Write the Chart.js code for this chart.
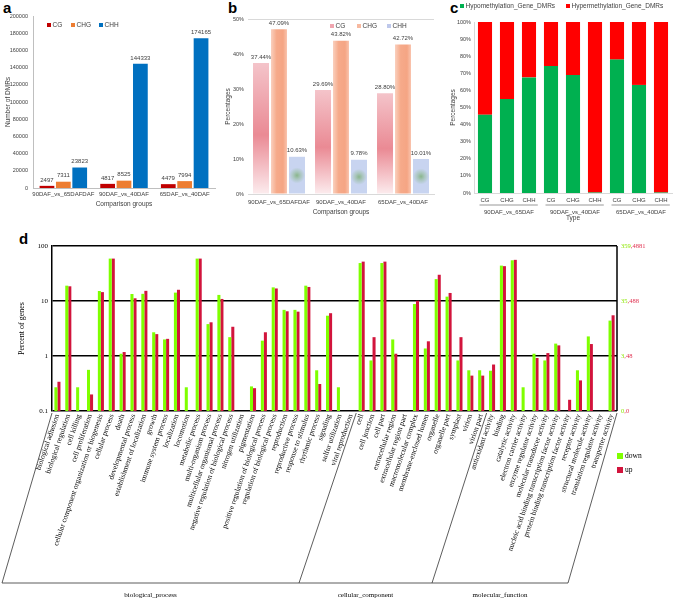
<!DOCTYPE html>
<html>
<head>
<meta charset="utf-8">
<script src="https://cdn.jsdelivr.net/npm/chart.js@4.4.0/dist/chart.umd.min.js"></script>
<style>
  html, body { margin: 0; padding: 0; background: #fff; }
  body { width: 678px; height: 601px; position: relative; overflow: hidden; }
  canvas { position: absolute; }
  .tag { position: absolute; font: bold 15px/15px "Liberation Sans", Arial, sans-serif; color: #000; }
</style>
</head>
<body>
<div class="tag" style="left:3px;top:0px">a</div>
<div class="tag" style="left:228px;top:0px">b</div>
<div class="tag" style="left:450px;top:0px">c</div>
<div class="tag" style="left:19px;top:231px">d</div>

<canvas id="chartA" width="225" height="212" style="left:0;top:0"></canvas>
<canvas id="chartB" width="225" height="218" style="left:225px;top:0"></canvas>
<canvas id="chartC" width="228" height="224" style="left:450px;top:0"></canvas>
<canvas id="chartD" width="678" height="376" style="left:0;top:225px"></canvas>

<script>
// ---- data ----
const groups = ['90DAF_vs_65DAFDAF', '90DAF_vs_40DAF', '65DAF_vs_40DAF'];
const dmrCG = [2497, 4817, 4479];
const dmrCHG = [7311, 8525, 7994];
const dmrCHH = [23823, 144333, 174165];

const pctCG = [37.44, 29.69, 28.80];
const pctCHG = [47.09, 43.82, 42.72];
const pctCHH = [10.63, 9.78, 10.01];

const contexts = ['CG', 'CHG', 'CHH', 'CG', 'CHG', 'CHH', 'CG', 'CHG', 'CHH'];
const contextGroups = ['90DAF_vs_65DAF', '90DAF_vs_40DAF', '65DAF_vs_40DAF'];
const hypoPct = [45.7, 55.0, 67.6, 74.2, 69.0, 0.3, 78.0, 63.2, 0.3];
const hyperPct = [54.3, 45.0, 32.4, 25.8, 31.0, 99.7, 22.0, 36.8, 99.7];

const goTerms = [
  'biological adhesion', 'biological regulation', 'cell killing', 'cell proliferation',
  'cellular component organization or biogenesis', 'cellular process', 'death',
  'developmental process', 'establishment of localization', 'growth', 'immune system process',
  'localization', 'locomotion', 'metabolic process', 'multi-organism process',
  'multicellular organismal process', 'negative regulation of biological process',
  'nitrogen utilization', 'pigmentation', 'positive regulation of biological process',
  'regulation of biological process', 'reproduction', 'reproductive process',
  'response to stimulus', 'rhythmic process', 'signaling', 'sulfur utilization',
  'viral reproduction',
  'cell', 'cell junction', 'cell part', 'extracellular region', 'extracellular region part',
  'macromolecular complex', 'membrane-enclosed lumen', 'organelle', 'organelle part',
  'symplast', 'virion', 'virion part',
  'antioxidant activity', 'binding', 'catalytic activity', 'electron carrier activity',
  'enzyme regulator activity', 'molecular transducer activity',
  'nucleic acid binding transcription factor activity',
  'protein binding transcription factor activity', 'receptor activity',
  'structural molecule activity', 'translation regulator activity', 'transporter activity'
];
const goDown = [
  0.27, 19, 0.27, 0.56, 15.2, 59, 1.1, 13.4, 13.5, 2.7, 2.0, 14.2, 0.27, 59, 3.8, 12.9, 2.2,
  null, 0.28, 1.9, 17.7, 6.9, 6.9, 19, 0.55, 5.4, 0.27, null,
  49, 0.83, 49, 2.0, null, 8.8, 1.37, 25, 12, 0.83, 0.55, 0.55,
  0.54, 44, 55, 0.27, 1.1, 0.83, 1.68, null, 0.55, 2.27, null, 4.4
];
const goUp = [
  0.34, 18.5, null, 0.2, 14.5, 59, 1.18, 11.2, 15.3, 2.5, 2.05, 16, null, 59, 4.1, 10.9, 3.4,
  null, 0.26, 2.7, 16.9, 6.5, 6.4, 18, 0.31, 6.0, null, null,
  52, 2.2, 52, 1.1, null, 10.1, 1.85, 30, 14, 2.2, 0.44, 0.44,
  0.7, 43, 56, null, 0.92, 1.13, 1.56, 0.16, 0.36, 1.65, null, 5.5
];
const goGroups = ['biological_process', 'cellular_component', 'molecular_function'];
const goGroupSizes = [28, 12, 12];
const goTicks = [0.1, 1, 10, 100];
const rightDown = ['0', '3', '35', '359'];
const rightUp = ['0', '48', '488', '4881'];

// ---- shared bits ----
const SANS = '"Liberation Sans", Arial, sans-serif';
const SERIF = '"Liberation Serif", "Times New Roman", serif';
const GREY = '#404040';

function keyPlugin(items) {
  return {
    id: 'key',
    afterDraw(chart) {
      const ctx = chart.ctx;
      ctx.save();
      ctx.font = '6.5px ' + SANS;
      ctx.textBaseline = 'middle';
      items.forEach((it, i) => {
        ctx.fillStyle = it.color;
        ctx.fillRect(it.x, it.y - 2, 4, 4);
        ctx.fillStyle = GREY;
        ctx.fillText(chart.data.datasets[i].label, it.x + 5.5, it.y);
      });
      ctx.restore();
    }
  };
}

function valueLabels(fmt) {
  return {
    id: 'valueLabels',
    afterDatasetsDraw(chart) {
      const ctx = chart.ctx;
      ctx.save();
      ctx.font = '6px ' + SANS;
      ctx.fillStyle = GREY;
      ctx.textAlign = 'center';
      ctx.textBaseline = 'bottom';
      chart.data.datasets.forEach((ds, di) => {
        chart.getDatasetMeta(di).data.forEach((el, i) => {
          ctx.fillText(fmt(ds.data[i]), el.x, el.y - 3);
        });
      });
      ctx.restore();
    }
  };
}

// ---- a ----
new Chart(document.getElementById('chartA'), {
  type: 'bar',
  data: {
    labels: groups,
    datasets: [
      { label: 'CG', data: dmrCG, backgroundColor: '#C00000' },
      { label: 'CHG', data: dmrCHG, backgroundColor: '#ED7D31' },
      { label: 'CHH', data: dmrCHH, backgroundColor: '#0070C0' }
    ]
  },
  options: {
    responsive: false, animation: false, devicePixelRatio: 1,
    layout: { padding: { top: 16, right: 10, left: 0, bottom: 0 } },
    datasets: { bar: { categoryPercentage: 0.81, barPercentage: 0.9 } },
    scales: {
      x: {
        grid: { display: false, drawTicks: false },
        border: { color: '#bfbfbf' },
        ticks: { font: { size: 6 }, color: GREY, padding: 3, maxRotation: 0, autoSkip: false },
        title: { display: true, text: 'Comparison groups', font: { size: 6.5 }, color: GREY, padding: { top: 0, bottom: 4 } },
        afterFit: s => { s.height = 24; }
      },
      y: {
        min: 0, max: 200000,
        ticks: { stepSize: 20000, font: { size: 5.5 }, color: GREY, padding: 5, callback: v => String(v) },
        grid: { display: false, drawTicks: false },
        border: { color: '#bfbfbf' },
        title: { display: true, text: 'Number of DMRs', font: { size: 6.5 }, color: GREY, padding: { top: 4, bottom: 0 } },
        afterFit: s => { s.width = 33; }
      }
    },
    plugins: { legend: { display: false }, tooltip: { enabled: false } }
  },
  plugins: [
    valueLabels(v => String(v)),
    keyPlugin([
      { x: 47, y: 25, color: '#C00000' },
      { x: 71, y: 25, color: '#ED7D31' },
      { x: 99, y: 25, color: '#0070C0' }
    ])
  ]
});

// ---- b ----
const CAT_B = 0.87, BAR_B = 0.89;
function barBox(chart, dataIndex, datasetIndex, value) {
  const xs = chart.scales.x, ys = chart.scales.y;
  const slot = xs.width / chart.data.labels.length;
  const bw = slot * CAT_B / 3;
  const cx = xs.getPixelForValue(dataIndex) + (datasetIndex - 1) * bw;
  return { cx, half: bw * BAR_B / 2, top: ys.getPixelForValue(value), base: ys.getPixelForValue(0) };
}
function fillCG(c) {
  const chart = c.chart;
  if (!chart.chartArea || c.raw == null) return '#eea0a8';
  const b = barBox(chart, c.dataIndex, c.datasetIndex, c.raw);
  const g = chart.ctx.createLinearGradient(0, b.top, 0, b.base);
  g.addColorStop(0, 'rgb(244,196,202)');
  g.addColorStop(0.55, 'rgb(234,138,148)');
  g.addColorStop(1, 'rgb(252,236,238)');
  return g;
}
function fillCHG(c) {
  const chart = c.chart;
  if (!chart.chartArea || c.raw == null) return '#f6ab8c';
  const b = barBox(chart, c.dataIndex, c.datasetIndex, c.raw);
  const g = chart.ctx.createLinearGradient(b.cx - b.half, 0, b.cx + b.half, 0);
  g.addColorStop(0, 'rgb(250,208,190)');
  g.addColorStop(0.35, 'rgb(246,170,138)');
  g.addColorStop(0.75, 'rgb(245,165,132)');
  g.addColorStop(1, 'rgb(249,196,174)');
  return g;
}
function fillCHH(c) {
  const chart = c.chart;
  if (!chart.chartArea || c.raw == null) return '#c8d4f0';
  const b = barBox(chart, c.dataIndex, c.datasetIndex, c.raw);
  const cy = (b.top + b.base) / 2;
  const g = chart.ctx.createRadialGradient(b.cx, cy, 0, b.cx, cy, b.half);
  g.addColorStop(0, 'rgb(138,182,140)');
  g.addColorStop(0.45, 'rgb(170,198,190)');
  g.addColorStop(1, 'rgb(200,212,240)');
  return g;
}

new Chart(document.getElementById('chartB'), {
  type: 'bar',
  data: {
    labels: groups,
    datasets: [
      { label: 'CG', data: pctCG, backgroundColor: fillCG },
      { label: 'CHG', data: pctCHG, backgroundColor: fillCHG },
      { label: 'CHH', data: pctCHH, backgroundColor: fillCHH }
    ]
  },
  options: {
    responsive: false, animation: false, devicePixelRatio: 1,
    layout: { padding: { top: 19, right: 16, left: 0, bottom: 0 } },
    datasets: { bar: { categoryPercentage: CAT_B, barPercentage: BAR_B } },
    scales: {
      x: {
        grid: { display: false, drawTicks: false },
        border: { color: '#d9d9d9' },
        ticks: { font: { size: 6 }, color: GREY, padding: 5, maxRotation: 0, autoSkip: false },
        title: { display: true, text: 'Comparison groups', font: { size: 6.5 }, color: GREY, padding: { top: 0, bottom: 2 } },
        afterFit: s => { s.height = 24; }
      },
      y: {
        min: 0, max: 50,
        ticks: { stepSize: 10, font: { size: 5.5 }, color: GREY, padding: 4, callback: v => v + '%' },
        grid: { drawTicks: false, color: c => (c.tick && c.tick.value === 50 ? '#d9d9d9' : 'rgba(0,0,0,0)') },
        border: { display: false },
        title: { display: true, text: 'Percentages', font: { size: 6.5 }, color: GREY, padding: { top: -1, bottom: 0 } },
        afterFit: s => { s.width = 23; }
      }
    },
    plugins: { legend: { display: false }, tooltip: { enabled: false } }
  },
  plugins: [
    valueLabels(v => v.toFixed(2) + '%'),
    keyPlugin([
      { x: 105, y: 26, color: 'rgb(240,165,175)' },
      { x: 132, y: 26, color: 'rgb(247,185,160)' },
      { x: 162, y: 26, color: 'rgb(190,200,235)' }
    ])
  ]
});

// ---- c ----
const groupAxisPlugin = {
  id: 'groupAxis',
  afterDraw(chart) {
    const ctx = chart.ctx, xs = chart.scales.x;
    const slot = xs.width / contexts.length;
    ctx.save();
    ctx.strokeStyle = '#7f7f7f';
    ctx.lineWidth = 0.8;
    ctx.fillStyle = GREY;
    ctx.font = '6px ' + SANS;
    ctx.textAlign = 'center';
    ctx.textBaseline = 'middle';
    contextGroups.forEach((g, i) => {
      const a = xs.getPixelForValue(i * 3), b = xs.getPixelForValue(i * 3 + 2);
      const y = chart.chartArea.bottom + 12;
      ctx.beginPath();
      ctx.moveTo(a - slot * 0.25, y);
      ctx.lineTo(b + slot * 0.4, y);
      ctx.stroke();
      ctx.fillText(g, (a + b) / 2 + 2, y + 7);
    });
    ctx.restore();
  }
};

new Chart(document.getElementById('chartC'), {
  type: 'bar',
  data: {
    labels: contexts,
    datasets: [
      { label: 'Hypomethylation_Gene_DMRs', data: hypoPct, backgroundColor: '#00B050' },
      { label: 'Hypermethylation_Gene_DMRs', data: hyperPct, backgroundColor: '#FF0000' }
    ]
  },
  options: {
    responsive: false, animation: false, devicePixelRatio: 1,
    layout: { padding: { top: 22, right: 6, left: 0, bottom: 0 } },
    datasets: { bar: { categoryPercentage: 1, barPercentage: 0.64 } },
    scales: {
      x: {
        stacked: true,
        grid: { display: false, drawTicks: false },
        border: { color: '#d9d9d9' },
        ticks: { font: { size: 6 }, color: GREY, padding: 4, maxRotation: 0, autoSkip: false },
        title: { display: true, text: 'Type', font: { size: 6.5 }, color: GREY, padding: { top: 0, bottom: 2 } },
        afterFit: s => { s.height = 31; }
      },
      y: {
        stacked: true, min: 0, max: 100,
        ticks: { stepSize: 10, font: { size: 5.5 }, color: GREY, padding: 3, callback: v => v + '%' },
        grid: { display: false, drawTicks: false },
        border: { color: '#d9d9d9' },
        title: { display: true, text: 'Percentages', font: { size: 6.5 }, color: GREY, padding: { top: -1, bottom: 0 } },
        afterFit: s => { s.width = 24; }
      }
    },
    plugins: { legend: { display: false }, tooltip: { enabled: false } }
  },
  plugins: [
    groupAxisPlugin,
    keyPlugin([
      { x: 10, y: 6, color: '#00B050' },
      { x: 116, y: 6, color: '#FF0000' }
    ])
  ]
});

// ---- d ----
// x positions where the group brackets meet the bottom rule
const bracketFoot = [2, 299, 432, 568];
const goDecor = {
  id: 'goDecor',
  afterDraw(chart) {
    const ctx = chart.ctx, xs = chart.scales.x, ys = chart.scales.y, area = chart.chartArea;
    const slot = xs.width / goTerms.length;
    ctx.save();
    // right axis
    ctx.strokeStyle = '#000';
    ctx.lineWidth = 1.5;
    ctx.beginPath();
    ctx.moveTo(area.right, area.top);
    ctx.lineTo(area.right, area.bottom);
    ctx.stroke();
    // right-hand counts
    ctx.font = '6.5px ' + SERIF;
    ctx.textBaseline = 'middle';
    goTicks.forEach((v, i) => {
      const y = ys.getPixelForValue(v);
      let x = area.right + 4;
      ctx.fillStyle = '#8CE600';
      ctx.fillText(rightDown[i], x, y);
      x += ctx.measureText(rightDown[i]).width;
      ctx.fillStyle = '#E0304F';
      ctx.fillText(',' + rightUp[i], x, y);
    });
    // group brackets
    ctx.strokeStyle = '#333';
    ctx.lineWidth = 0.8;
    const footY = area.bottom + 172;
    let start = 0;
    const tops = [xs.getPixelForValue(0) - slot / 2];
    goGroupSizes.forEach(n => { start += n; tops.push(xs.getPixelForValue(start - 1) + slot / 2); });
    tops.forEach((tx, i) => {
      ctx.beginPath();
      ctx.moveTo(tx, area.bottom + 2);
      ctx.lineTo(bracketFoot[i], footY);
      ctx.stroke();
    });
    ctx.beginPath();
    ctx.moveTo(bracketFoot[0], footY);
    ctx.lineTo(bracketFoot[bracketFoot.length - 1], footY);
    ctx.stroke();
    ctx.fillStyle = '#000';
    ctx.font = '7px ' + SERIF;
    ctx.textAlign = 'center';
    goGroups.forEach((g, i) => {
      ctx.fillText(g, (bracketFoot[i] + bracketFoot[i + 1]) / 2, footY + 12);
    });
    // legend
    ctx.textAlign = 'left';
    ctx.font = '7.5px ' + SERIF;
    chart.data.datasets.forEach((ds, i) => {
      const y = area.bottom + 45 + i * 14;
      ctx.fillStyle = ds.backgroundColor;
      ctx.fillRect(area.right, y - 3, 6, 6);
      ctx.fillStyle = '#000';
      ctx.fillText(ds.label, area.right + 8, y);
    });
    ctx.restore();
  }
};

new Chart(document.getElementById('chartD'), {
  type: 'bar',
  data: {
    labels: goTerms,
    datasets: [
      { label: 'down', data: goDown, backgroundColor: '#7FFF00' },
      { label: 'up', data: goUp, backgroundColor: '#D2143C' }
    ]
  },
  options: {
    responsive: false, animation: false, devicePixelRatio: 1,
    layout: { padding: { top: 21, right: 61, left: 0, bottom: 0 } },
    datasets: { bar: { categoryPercentage: 0.56, barPercentage: 1 } },
    scales: {
      x: {
        grid: { display: false, drawTicks: false },
        border: { display: false },
        ticks: { font: { family: SERIF, size: 7.5 }, color: '#000', padding: 2, minRotation: 71, maxRotation: 71, autoSkip: false },
        afterFit: s => { s.height = 190; }
      },
      y: {
        type: 'logarithmic', min: 0.1, max: 100,
        afterBuildTicks: s => { s.ticks = goTicks.map(v => ({ value: v })); },
        ticks: { font: { family: SERIF, size: 7 }, color: '#000', padding: 4, callback: v => String(v) },
        grid: { color: '#000', lineWidth: 1.5, drawTicks: false },
        border: { color: '#000', width: 1.5 },
        title: { display: true, text: 'Percent of genes', font: { family: SERIF, size: 8 }, color: '#000', padding: { top: 17, bottom: 0 } },
        afterFit: s => { s.width = 52; }
      }
    },
    plugins: { legend: { display: false }, tooltip: { enabled: false } }
  },
  plugins: [goDecor]
});
</script>
</body>
</html>
